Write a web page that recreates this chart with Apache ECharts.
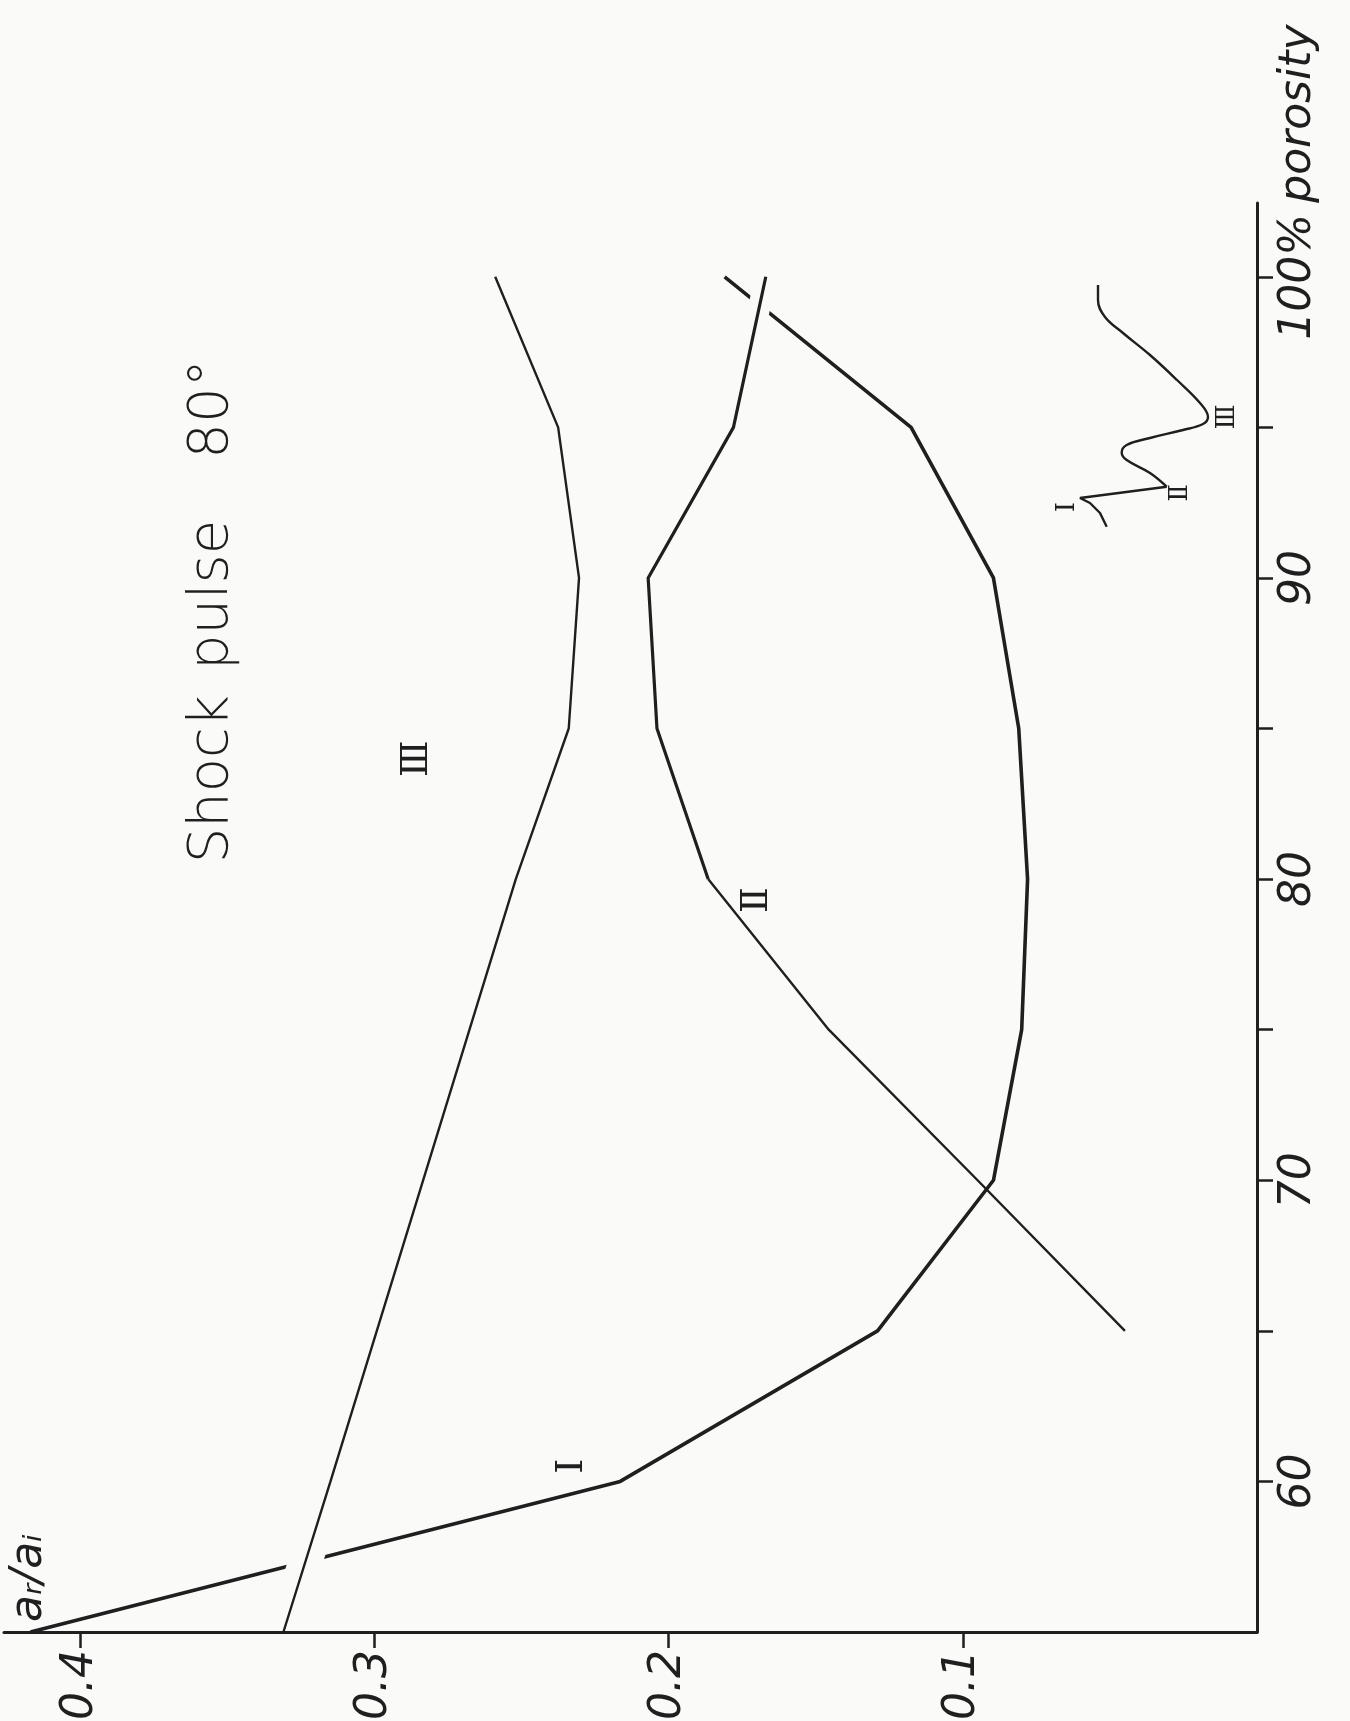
<!DOCTYPE html>
<html>
<head>
<meta charset="utf-8">
<script src="https://cdn.jsdelivr.net/npm/echarts@6/dist/echarts.min.js"></script>
<style>
  html, body { margin: 0; padding: 0; background: #fafaf9; }
  #chart { width: 1350px; height: 1721px; }
</style>
</head>
<body>
<div id="chart"></div>
<script>
// Reflection ratio a_r/a_i against porosity (%), shock pulse at 80°
const porosityI   = [55, 60, 65, 70, 75, 80, 85, 90, 95, 100];
const ratioI      = [0.417, 0.2165, 0.129, 0.0896, 0.080, 0.078, 0.081, 0.0896, 0.1176, 0.181];
const porosityII  = [65, 70, 75, 80, 85, 90, 95, 100];
const ratioII     = [0.0449, 0.095, 0.1456, 0.1866, 0.204, 0.207, 0.178, 0.167];
const porosityIII = [55, 60, 80, 85, 90, 95, 100];
const ratioIII    = [0.331, 0.315, 0.252, 0.234, 0.2305, 0.2376, 0.259];

// axis ticks and labels
const ratioTicks     = [0.1, 0.2, 0.3, 0.4];
const porosityTicks  = [60, 65, 70, 75, 80, 85, 90, 95, 100];
const porosityLabels = [60, 70, 80, 90, 100];

// inset: pulse shape (amplitude, time) with the three arrivals I, II, III
const pulseRise = [[3.67, 0.33], [3.0, 1.7], [2.0, 2.7], [1.0, 3.2], [9.67, 4.33]];
const pulseTail = [[9.67, 4.33], [8.0, 5.7], [5.67, 7.0], [5.17, 7.73], [5.67, 8.5], [8.0, 9.2],
                   [11.3, 10.0], [13.3, 10.6], [13.8, 11.3], [13.0, 12.7], [10.7, 15.0],
                   [8.0, 17.5], [5.3, 19.7], [3.5, 21.3], [2.8, 23.0], [2.8, 24.5]];

const pairs = (xs, ys) => xs.map((x, i) => [x, ys[i]]);
const curveI = pairs(ratioI, porosityI);
const curveII = pairs(ratioII, porosityII);
const curveIII = pairs(ratioIII, porosityIII);
const splitII = porosityII.indexOf(80);

const INK = '#1f1f1f';
const BG = '#fafaf9';
const HAND = '"DejaVu Sans", "Liberation Sans", sans-serif';
const ROMAN = '"DejaVu Serif", "DejaVu Sans", serif';

const chart = echarts.init(document.getElementById('chart'), null, { renderer: 'canvas' });

chart.setOption({
  backgroundColor: BG,
  animation: false,
  grid: [
    { left: 4, right: 93, top: 203, bottom: 89, containLabel: false, outerBoundsMode: 'none' },
    { left: 1070, top: 280, width: 150, height: 250, containLabel: false, outerBoundsMode: 'none' }
  ],
  xAxis: [
    {
      type: 'value', gridIndex: 0, inverse: true, min: 0, max: 0.426, position: 'bottom', z: 10,
      axisLine: { show: true, onZero: false, lineStyle: { color: INK, width: 3 } },
      axisTick: { show: true, customValues: ratioTicks, length: 16, lineStyle: { color: INK, width: 2.5 } },
      axisLabel: {
        show: true, customValues: ratioTicks, rotate: 90, margin: 18,
        formatter: v => v.toFixed(1),
        color: INK, fontSize: 44, fontStyle: 'italic', fontFamily: HAND, fontWeight: 200
      },
      splitLine: { show: false }
    },
    { type: 'value', gridIndex: 1, min: 0, max: 15, show: false }
  ],
  yAxis: [
    {
      type: 'value', gridIndex: 0, min: 55, max: 102.45, position: 'right', z: 10,
      axisLine: { show: true, onZero: false, lineStyle: { color: INK, width: 3 } },
      axisTick: { show: true, customValues: porosityTicks, length: 16, lineStyle: { color: INK, width: 2.5 } },
      axisLabel: {
        show: true, customValues: porosityLabels, rotate: 90, margin: 20,
        formatter: v => (v === 100 ? '100%' : String(v)),
        color: INK, fontSize: 44, fontStyle: 'italic', fontFamily: HAND, fontWeight: 200
      },
      splitLine: { show: false }
    },
    { type: 'value', gridIndex: 1, min: 0, max: 25, show: false }
  ],
  series: [
    {
      name: 'I', type: 'line', xAxisIndex: 0, yAxisIndex: 0, data: curveI,
      symbol: 'none', z: 2, lineStyle: { color: INK, width: 3.6 }
    },
    // background-coloured strokes that break curve I where II and III pass over it
    {
      name: 'gapIII', type: 'line', xAxisIndex: 0, yAxisIndex: 0, data: curveIII.slice(0, 2),
      symbol: 'none', z: 3, silent: true, lineStyle: { color: BG, width: 34 }
    },
    {
      name: 'gapII', type: 'line', xAxisIndex: 0, yAxisIndex: 0, data: curveII.slice(-2),
      symbol: 'none', z: 3, silent: true, lineStyle: { color: BG, width: 22 }
    },
    {
      name: 'II', type: 'line', xAxisIndex: 0, yAxisIndex: 0, data: curveII.slice(0, splitII + 1),
      symbol: 'none', z: 4, lineStyle: { color: INK, width: 2.4 }
    },
    {
      name: 'II upper', type: 'line', xAxisIndex: 0, yAxisIndex: 0, data: curveII.slice(splitII),
      symbol: 'none', z: 4, lineStyle: { color: INK, width: 3.2 }
    },
    {
      name: 'III', type: 'line', xAxisIndex: 0, yAxisIndex: 0, data: curveIII,
      symbol: 'none', z: 4, lineStyle: { color: INK, width: 2.4 }
    },
    {
      name: 'pulseRise', type: 'line', xAxisIndex: 1, yAxisIndex: 1, data: pulseRise,
      symbol: 'none', clip: false, lineStyle: { color: INK, width: 2.4 }
    },
    {
      name: 'pulseTail', type: 'line', xAxisIndex: 1, yAxisIndex: 1, data: pulseTail,
      symbol: 'none', smooth: 0.4, clip: false, lineStyle: { color: INK, width: 2.4 }
    }
  ]
});

// rotated annotation texts, placed through the axes' own scales
const toMain = (v, p) => chart.convertToPixel({ gridIndex: 0 }, [v, p]);
const toInset = (a, t) => chart.convertToPixel({ gridIndex: 1 }, [a, t]);
const rotText = (pos, text, size, extra) => ({
  type: 'text', x: pos[0], y: pos[1], rotation: Math.PI / 2, z: 20,
  style: Object.assign({
    text: text, fill: INK, fontSize: size, fontFamily: HAND,
    align: 'center', verticalAlign: 'middle'
  }, extra || {})
});

const axisX = toMain(0, 100)[0];
const tickTop = toMain(0, 100)[1];
const roman = { fontFamily: ROMAN };
const titleStyle = { fontWeight: 200 };

chart.setOption({
  graphic: [
    // title words, widely spaced
    rotText([212, 779], 'Shock', 56, titleStyle),
    rotText([212, 595], 'pulse', 56, titleStyle),
    rotText([212, 409], '80°', 56, titleStyle),
    rotText([30, 1578], 'aᵣ/aᵢ', 44, { fontStyle: 'italic', fontWeight: 200 }),
    rotText([axisX + 20, tickTop - 74], 'porosity', 44,
            { align: 'left', verticalAlign: 'top', fontStyle: 'italic', fontWeight: 200 }),
    rotText(toMain(0.233, 60.5), 'Ⅰ', 38, roman),
    rotText(toMain(0.170, 79.3), 'Ⅱ', 38, roman),
    rotText(toMain(0.2855, 84), 'Ⅲ', 38, roman),
    rotText(toInset(-0.3, 2.3), 'Ⅰ', 26, roman),
    rotText(toInset(11.0, 3.7), 'Ⅱ', 26, roman),
    rotText(toInset(15.7, 11.3), 'Ⅲ', 26, roman)
  ]
});
</script>
</body>
</html>
